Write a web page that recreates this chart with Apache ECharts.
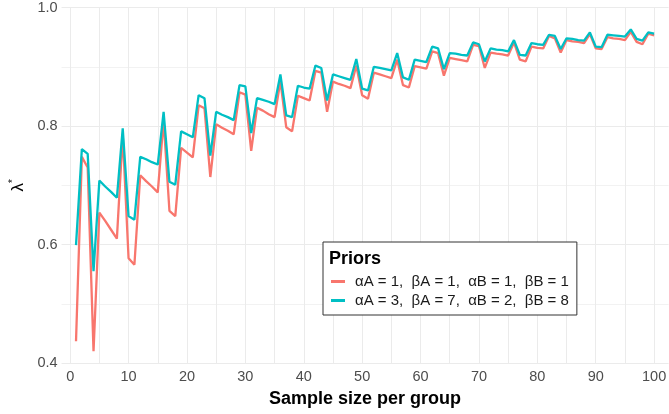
<!DOCTYPE html>
<html>
<head>
<meta charset="utf-8">
<script src="https://cdn.jsdelivr.net/npm/echarts@6/dist/echarts.min.js"></script>
<style>
html,body{margin:0;padding:0;background:#fff;}
#c{width:669px;height:414px;}
</style>
</head>
<body>
<div id="c"></div>
<script>
const sampleSizes = [1,2,3,4,5,6,7,8,9,10,11,12,13,14,15,16,17,18,19,20,
21,22,23,24,25,26,27,28,29,30,31,32,33,34,35,36,37,38,39,40,
41,42,43,44,45,46,47,48,49,50,51,52,53,54,55,56,57,58,59,60,
61,62,63,64,65,66,67,68,69,70,71,72,73,74,75,76,77,78,79,80,
81,82,83,84,85,86,87,88,89,90,91,92,93,94,95,96,97,98,99,100];

const seriesNames = ['αA = 1,  βA = 1,  αB = 1,  βB = 1', 'αA = 3,  βA = 7,  αB = 2,  βB = 8'];

const lambdaFlat = [
0.437,0.748,0.730,0.420,0.654,0.640,0.625,0.610,0.786,0.577,
0.566,0.717,0.707,0.698,0.688,0.810,0.657,0.648,0.763,0.755,
0.747,0.835,0.830,0.714,0.803,0.797,0.792,0.786,0.857,0.853,
0.758,0.831,0.826,0.820,0.815,0.876,0.798,0.791,0.851,0.847,
0.843,0.893,0.890,0.824,0.875,0.871,0.868,0.864,0.902,0.852,
0.846,0.890,0.887,0.884,0.881,0.912,0.869,0.865,0.901,0.899,
0.897,0.926,0.923,0.885,0.915,0.913,0.911,0.909,0.937,0.935,
0.898,0.924,0.922,0.921,0.919,0.941,0.912,0.909,0.934,0.932,
0.931,0.952,0.948,0.924,0.945,0.943,0.942,0.940,0.955,0.931,
0.930,0.950,0.948,0.947,0.945,0.959,0.942,0.938,0.956,0.953];

const lambdaInformative = [
0.599,0.761,0.753,0.555,0.708,0.698,0.689,0.679,0.796,0.648,
0.642,0.748,0.744,0.739,0.735,0.824,0.706,0.701,0.791,0.786,
0.781,0.852,0.847,0.750,0.824,0.819,0.815,0.810,0.869,0.867,
0.788,0.847,0.844,0.841,0.837,0.887,0.818,0.815,0.868,0.865,
0.863,0.902,0.898,0.843,0.887,0.884,0.881,0.878,0.913,0.863,
0.860,0.900,0.898,0.896,0.894,0.923,0.882,0.878,0.912,0.910,
0.908,0.934,0.931,0.896,0.923,0.922,0.920,0.919,0.941,0.938,
0.909,0.931,0.929,0.928,0.926,0.945,0.920,0.919,0.940,0.938,
0.937,0.954,0.952,0.930,0.948,0.947,0.945,0.944,0.958,0.934,
0.933,0.954,0.953,0.952,0.951,0.963,0.947,0.944,0.958,0.956];

const xTickLabels = [0,10,20,30,40,50,60,70,80,90,100];
const xGridValues = [0,5,10,15,20,25,30,35,40,45,50,55,60,65,70,75,80,85,90,95,100];

const FONT = '"Liberation Sans", Arial, sans-serif';
const chart = echarts.init(document.getElementById('c'), null, {renderer: 'canvas'});

function pairs(vals){ return sampleSizes.map((n,i)=>[n, vals[i]]); }

chart.setOption({
  animation: false,
  backgroundColor: '#ffffff',
  grid: {left: 52, right: 0, top: 6.7, bottom: 43.3, containLabel: false},
  title: {
    text: 'Priors', left: 329, top: 250, padding: 0,
    textStyle: {fontFamily: FONT, fontSize: 18, fontWeight: 'bold', color: '#000', lineHeight: 18}
  },
  legend: {
    orient: 'vertical', left: 323, top: 242,
    padding: [30, 8, 5, 8], itemGap: 0,
    itemWidth: 14, itemHeight: 3, icon: 'rect',
    backgroundColor: '#ffffff', borderColor: '#333333', borderWidth: 1, borderRadius: 0,
    textStyle: {fontFamily: FONT, fontSize: 15, lineHeight: 19, color: '#1a1a1a', padding: [0,0,0,5]},
    data: seriesNames
  },
  xAxis: {
    type: 'value', min: -1.475, max: 102.475,
    name: 'Sample size per group', nameLocation: 'middle', nameGap: 20,
    nameTextStyle: {fontFamily: FONT, fontSize: 18, fontWeight: 'bold', color: '#000', verticalAlign: 'top', lineHeight: 20},
    axisLine: {show: false},
    axisTick: {show: false, customValues: xGridValues},
    axisLabel: {customValues: xTickLabels, fontFamily: FONT, fontSize: 14.5, color: '#4D4D4D', margin: 6},
    splitLine: {show: true, lineStyle: {color: '#EBEBEB', width: 1}}
  },
  yAxis: {
    type: 'value', min: 0.4, max: 1.0, interval: 0.2,
    name: '{a|λ}{b|*}', nameLocation: 'middle', nameRotate: 90, nameGap: 30,
    nameTextStyle: {
      rich: {
        a: {fontFamily: FONT, fontSize: 17, color: '#000', lineHeight: 20},
        b: {fontFamily: FONT, fontSize: 10, color: '#000', verticalAlign: 'top', lineHeight: 20}
      }
    },
    axisLine: {show: false},
    axisTick: {show: false},
    axisLabel: {fontFamily: FONT, fontSize: 14.5, color: '#4D4D4D', margin: 4, formatter: v => v.toFixed(1)},
    splitLine: {show: true, lineStyle: {color: '#EBEBEB', width: 1}},
    minorTick: {show: false, splitNumber: 2},
    minorSplitLine: {show: true, lineStyle: {color: '#F2F2F2', width: 1}}
  },
  series: [
    {name: seriesNames[0], type: 'line', data: pairs(lambdaFlat), showSymbol: false, symbol: 'none',
     color: '#F8766D', lineStyle: {color: '#F8766D', width: 2.3}, z: 2},
    {name: seriesNames[1], type: 'line', data: pairs(lambdaInformative), showSymbol: false, symbol: 'none',
     color: '#00BFC4', lineStyle: {color: '#00BFC4', width: 2.3}, z: 3}
  ]
});
</script>
</body>
</html>
